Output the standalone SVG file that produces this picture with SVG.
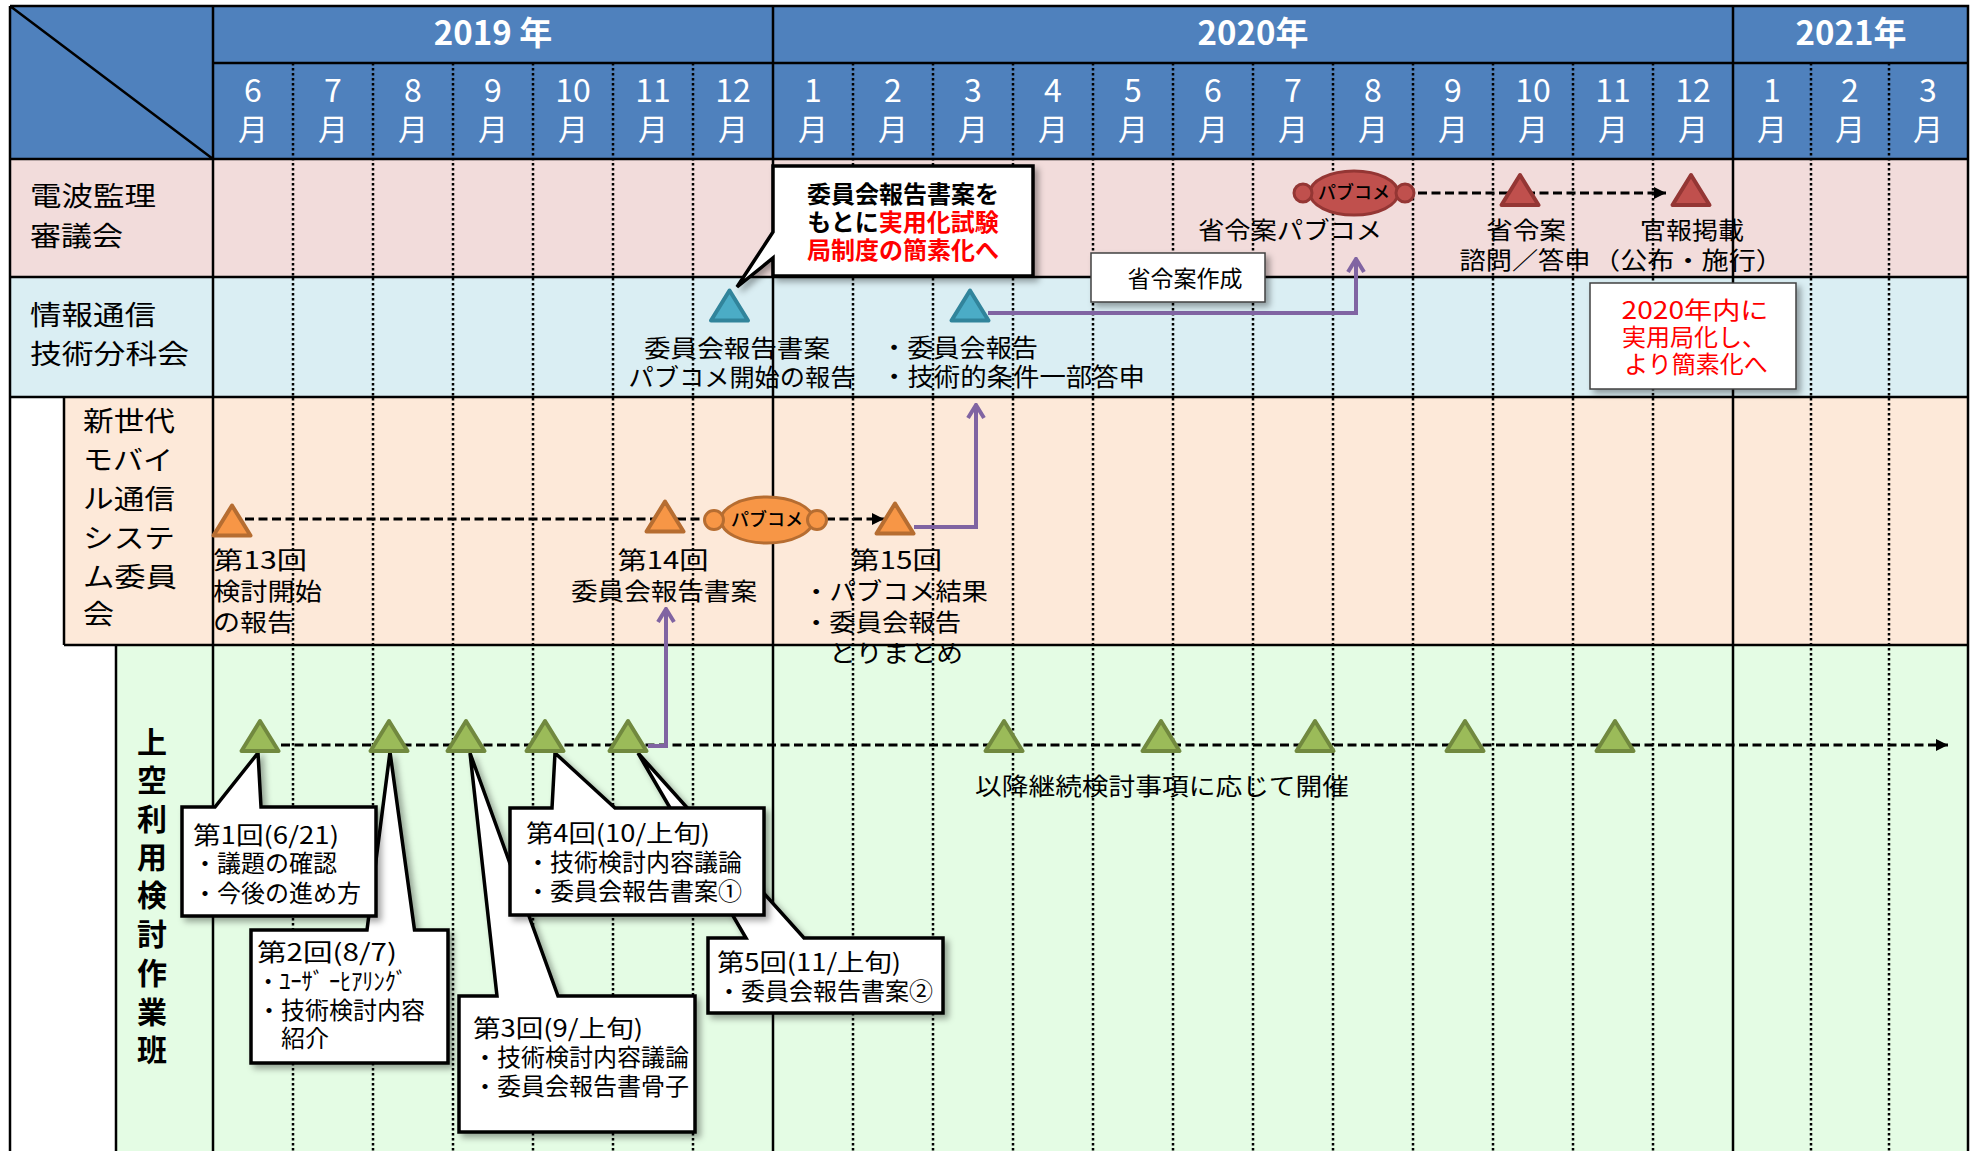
<svg xmlns="http://www.w3.org/2000/svg" width="1974" height="1151" viewBox="0 0 1974 1151">
<defs>
<style>
text{font-family:"Noto Sans CJK JP","Noto Sans",sans-serif;fill:#000;}
.hy{fill:#fff;font-size:33px;font-weight:bold;text-anchor:middle;}
.hn{fill:#fff;font-size:32px;text-anchor:middle;}
.hm{fill:#fff;font-size:30px;text-anchor:middle;}
.lbl{font-size:27px;}
.t24{font-size:24px;}
.t25{font-size:25px;}
.t23{font-size:23px;}
.mid{text-anchor:middle;}
.vb{font-size:30px;font-weight:bold;text-anchor:middle;}
.cb{font-size:24px;font-weight:bold;text-anchor:middle;}
.red{fill:#ff0000;}
.pb{font-size:18px;text-anchor:middle;font-weight:500;}
.sol{stroke:#000;stroke-width:2.5;fill:none;}
.dot{stroke:#000;stroke-width:2.5;stroke-dasharray:2.5 2.5;fill:none;}
.dash{stroke:#000;stroke-width:3;stroke-dasharray:9 4.5;fill:none;}
.pur{stroke:#8064A2;stroke-width:4;fill:none;}
.tg{fill:#9BBB59;stroke:#71893F;stroke-width:4;stroke-linejoin:round;}
.to{fill:#F79646;stroke:#B66D31;stroke-width:4;stroke-linejoin:round;}
.tc{fill:#4BACC6;stroke:#31849B;stroke-width:4;stroke-linejoin:round;}
.tr{fill:#C0504D;stroke:#943634;stroke-width:4;stroke-linejoin:round;}
.bo{fill:#F79646;stroke:#B66D31;stroke-width:3;}
.br{fill:#C0504D;stroke:#943634;stroke-width:3;}
.co{fill:#fff;stroke:#000;stroke-width:3.5;stroke-linejoin:miter;filter:url(#sh);}
.bx{fill:#fff;stroke:#404040;stroke-width:1.5;filter:url(#sh);}
</style>
<filter id="sh" x="-10%" y="-10%" width="130%" height="130%">
<feDropShadow dx="4" dy="4" stdDeviation="3" flood-color="#000" flood-opacity="0.35"/>
</filter>
<path id="tri" d="M0,-15L18.5,15L-18.5,15Z"/>
<marker id="ab" viewBox="0 0 12 12" refX="12" refY="6" markerWidth="12" markerHeight="12" markerUnits="userSpaceOnUse" orient="auto">
<path d="M0,0L12,6L0,12Z" fill="#000"/>
</marker>
<marker id="ap" viewBox="-16 -11 18 22" refX="0" refY="0" markerWidth="18" markerHeight="22" markerUnits="userSpaceOnUse" orient="auto">
<path d="M-13,-8L0,0L-13,8" fill="none" stroke="#8064A2" stroke-width="4"/>
</marker>
</defs>

<g id="background">
<rect x="0" y="0" width="1974" height="1151" fill="#fff"/>
<rect x="10" y="6" width="1958" height="153" fill="#4F81BD"/>
<rect x="10" y="159" width="1958" height="118" fill="#F2DCDB"/>
<rect x="10" y="277" width="1958" height="120" fill="#DAEEF3"/>
<rect x="64" y="397" width="1904" height="248" fill="#FDE9D9"/>
<rect x="116" y="645" width="1852" height="506" fill="#E4FCE4"/>
</g>

<g id="grid">
<path class="dot" d="M293,63V1151M373,63V1151M453,63V1151M533,63V1151M613,63V1151M693,63V1151M853,63V1151M933,63V1151M1013,63V1151M1093,63V1151M1173,63V1151M1253,63V1151M1333,63V1151M1413,63V1151M1493,63V1151M1573,63V1151M1653,63V1151M1811,63V1151M1889,63V1151"/>
<path class="sol" d="M10,6H1968V1151M10,6V1151M213,63H1968M10,159H1968M10,277H1968M10,397H1968M64,645H1968M64,397V645M116,645V1151M213,6V1151M773,6V1151M1733,6V1151M10,6L213,159" stroke-width="3"/>
</g>

<g id="header">
<text class="hy" x="493" y="45">2019 年</text>
<text class="hy" x="1253" y="45">2020年</text>
<text class="hy" x="1851" y="45">2021年</text>
<g class="months">
<text class="hn" x="253" y="102">6</text><text class="hm" x="253" y="140">月</text>
<text class="hn" x="333" y="102">7</text><text class="hm" x="333" y="140">月</text>
<text class="hn" x="413" y="102">8</text><text class="hm" x="413" y="140">月</text>
<text class="hn" x="493" y="102">9</text><text class="hm" x="493" y="140">月</text>
<text class="hn" x="573" y="102">10</text><text class="hm" x="573" y="140">月</text>
<text class="hn" x="653" y="102">11</text><text class="hm" x="653" y="140">月</text>
<text class="hn" x="733" y="102">12</text><text class="hm" x="733" y="140">月</text>
<text class="hn" x="813" y="102">1</text><text class="hm" x="813" y="140">月</text>
<text class="hn" x="893" y="102">2</text><text class="hm" x="893" y="140">月</text>
<text class="hn" x="973" y="102">3</text><text class="hm" x="973" y="140">月</text>
<text class="hn" x="1053" y="102">4</text><text class="hm" x="1053" y="140">月</text>
<text class="hn" x="1133" y="102">5</text><text class="hm" x="1133" y="140">月</text>
<text class="hn" x="1213" y="102">6</text><text class="hm" x="1213" y="140">月</text>
<text class="hn" x="1293" y="102">7</text><text class="hm" x="1293" y="140">月</text>
<text class="hn" x="1373" y="102">8</text><text class="hm" x="1373" y="140">月</text>
<text class="hn" x="1453" y="102">9</text><text class="hm" x="1453" y="140">月</text>
<text class="hn" x="1533" y="102">10</text><text class="hm" x="1533" y="140">月</text>
<text class="hn" x="1613" y="102">11</text><text class="hm" x="1613" y="140">月</text>
<text class="hn" x="1693" y="102">12</text><text class="hm" x="1693" y="140">月</text>
<text class="hn" x="1772" y="102">1</text><text class="hm" x="1772" y="140">月</text>
<text class="hn" x="1850" y="102">2</text><text class="hm" x="1850" y="140">月</text>
<text class="hn" x="1928" y="102">3</text><text class="hm" x="1928" y="140">月</text>
</g>
</g>

<g id="row-labels">
<text class="lbl" x="30" y="206" textLength="126" lengthAdjust="spacingAndGlyphs">電波監理</text>
<text class="lbl" x="30" y="246" textLength="93" lengthAdjust="spacingAndGlyphs">審議会</text>
<text class="lbl" x="30" y="325" textLength="126" lengthAdjust="spacingAndGlyphs">情報通信</text>
<text class="lbl" x="30" y="364" textLength="159" lengthAdjust="spacingAndGlyphs">技術分科会</text>
<text class="lbl" x="83" y="431" textLength="92" lengthAdjust="spacingAndGlyphs">新世代</text>
<text class="lbl" x="83" y="470" textLength="90" lengthAdjust="spacingAndGlyphs">モバイ</text>
<text class="lbl" x="83" y="509" textLength="92" lengthAdjust="spacingAndGlyphs">ル通信</text>
<text class="lbl" x="83" y="548" textLength="92" lengthAdjust="spacingAndGlyphs">システ</text>
<text class="lbl" x="83" y="587" textLength="94" lengthAdjust="spacingAndGlyphs">ム委員</text>
<text class="lbl" x="83" y="624" textLength="31" lengthAdjust="spacingAndGlyphs">会</text>
<text class="vb"><tspan x="152" y="753">上</tspan><tspan x="152" y="791">空</tspan><tspan x="152" y="830">利</tspan><tspan x="152" y="868">用</tspan><tspan x="152" y="906">検</tspan><tspan x="152" y="945">討</tspan><tspan x="152" y="984">作</tspan><tspan x="152" y="1023">業</tspan><tspan x="152" y="1061">班</tspan></text>
</g>

<g id="connectors">
<path class="dash" d="M1418,193H1666" marker-end="url(#ab)"/>
<path class="dash" d="M245,519H706"/>
<path class="dash" d="M826,519H884" marker-end="url(#ab)"/>
<path class="dash" d="M281,745H1948" marker-end="url(#ab)"/>
<path class="pur" d="M988,313H1356V259" marker-end="url(#ap)"/>
<path class="pur" d="M914,527H976V405" marker-end="url(#ap)"/>
<path class="pur" d="M648,746H666V609" marker-end="url(#ap)"/>
</g>

<g id="denpa-events">
<g id="pubcom-red">
<ellipse class="br" cx="1354" cy="193" rx="44" ry="22"/>
<circle class="br" cx="1303" cy="193" r="9"/>
<circle class="br" cx="1405" cy="193" r="9"/>
<text class="pb" x="1354" y="199">パブコメ</text>
</g>
<use href="#tri" class="tr" x="1520" y="190"/>
<use href="#tri" class="tr" x="1691" y="190"/>
<text class="t24 mid" x="1290" y="239" textLength="184" lengthAdjust="spacingAndGlyphs">省令案パブコメ</text>
<text class="t24 mid" x="1526" y="239" textLength="80" lengthAdjust="spacingAndGlyphs">省令案</text>
<text class="t24 mid" x="1525" y="269" textLength="131" lengthAdjust="spacingAndGlyphs">諮問／答申</text>
<text class="t24 mid" x="1692" y="239" textLength="104" lengthAdjust="spacingAndGlyphs">官報掲載</text>
<text class="t24 mid" x="1688" y="269" textLength="190" lengthAdjust="spacingAndGlyphs">（公布・施行）</text>
<g id="box-shoreian">
<rect class="bx" x="1091" y="253" width="174" height="49"/>
<text class="t23 mid" x="1185" y="287">省令案作成</text>
</g>
</g>

<g id="joho-events">
<use href="#tri" class="tc" x="729.5" y="305.5"/>
<use href="#tri" class="tc" x="970" y="305.5"/>
<text class="t24 mid" x="737" y="357" textLength="186" lengthAdjust="spacingAndGlyphs">委員会報告書案</text>
<text class="t24 mid" x="742" y="386" textLength="227" lengthAdjust="spacingAndGlyphs">パブコメ開始の報告</text>
<text class="t25" x="881" y="357" textLength="157" lengthAdjust="spacingAndGlyphs">・委員会報告</text>
<text class="t25" x="881" y="386" textLength="264" lengthAdjust="spacingAndGlyphs">・技術的条件一部答申</text>
<g id="box-2020">
<rect class="bx" x="1590" y="283" width="206" height="106"/>
<text class="t24 mid red" x="1695" y="319" textLength="147" lengthAdjust="spacingAndGlyphs">2020年内に</text>
<text class="t24 mid red" x="1694" y="346">実用局化し、</text>
<text class="t24 mid red" x="1696" y="373">より簡素化へ</text>
</g>
</g>

<g id="shinsedai-events">
<use href="#tri" class="to" x="232" y="520.5"/>
<use href="#tri" class="to" x="665" y="516.5"/>
<use href="#tri" class="to" x="895" y="518.5"/>
<g id="pubcom-orange">
<ellipse class="bo" cx="767" cy="520" rx="46" ry="23"/>
<circle class="bo" cx="714" cy="520" r="9.5"/>
<circle class="bo" cx="817" cy="520" r="9.5"/>
<text class="pb" x="767" y="526">パブコメ</text>
</g>
<text class="t24" x="213" y="569" textLength="94" lengthAdjust="spacingAndGlyphs">第13回</text>
<text class="t24" x="213" y="600" textLength="109" lengthAdjust="spacingAndGlyphs">検討開始</text>
<text class="t24" x="213" y="631" textLength="81" lengthAdjust="spacingAndGlyphs">の報告</text>
<text class="t24 mid" x="663" y="569" textLength="91" lengthAdjust="spacingAndGlyphs">第14回</text>
<text class="t24 mid" x="664" y="600" textLength="186" lengthAdjust="spacingAndGlyphs">委員会報告書案</text>
<text class="t24 mid" x="896" y="569" textLength="92" lengthAdjust="spacingAndGlyphs">第15回</text>
<text class="t24" x="803" y="600" textLength="185" lengthAdjust="spacingAndGlyphs">・パブコメ結果</text>
<text class="t24" x="803" y="631" textLength="158" lengthAdjust="spacingAndGlyphs">・委員会報告</text>
<text class="t24" x="829" y="662" textLength="134" lengthAdjust="spacingAndGlyphs">とりまとめ</text>
</g>

<g id="callout-top">
<path class="co" d="M773,166H1033V276H773V258L737,287L773,232Z"/>
<text class="cb" x="903" y="203">委員会報告書案を</text>
<text class="cb" x="903" y="231">もとに<tspan class="red">実用化試験</tspan></text>
<text class="cb red" x="903" y="259">局制度の簡素化へ</text>
</g>

<g id="wg-events">
<g id="callout-2">
<path class="co" d="M251,930H367L390,752L414.5,930H448V1063H251Z"/>
<text class="t24" x="257" y="961" textLength="140" lengthAdjust="spacingAndGlyphs">第2回(8/7)</text>
<text class="t24" x="257" y="990" textLength="150" lengthAdjust="spacingAndGlyphs">・ﾕｰｻﾞ ｰﾋｱﾘﾝｸﾞ</text>
<text class="t24" x="257" y="1019">・技術検討内容</text>
<text class="t24" x="281" y="1047">紹介</text>
</g>
<g id="callout-1">
<path class="co" d="M182,807H215L258,753L261,807H376V916H182Z"/>
<text class="t24" x="193" y="844" textLength="146" lengthAdjust="spacingAndGlyphs">第1回(6/21)</text>
<text class="t24" x="193" y="872">・議題の確認</text>
<text class="t24" x="193" y="902">・今後の進め方</text>
</g>
<g id="callout-3">
<path class="co" d="M459,996H497L470,753L558,996H695V1132H459Z"/>
<text class="t24" x="473" y="1037" textLength="170" lengthAdjust="spacingAndGlyphs">第3回(9/上旬)</text>
<text class="t24" x="473" y="1066">・技術検討内容議論</text>
<text class="t24" x="473" y="1095">・委員会報告書骨子</text>
</g>
<g id="callout-5">
<path class="co" d="M708,938H746L638,753L804,938H943V1013H708Z"/>
<text class="t24" x="717" y="971" textLength="184" lengthAdjust="spacingAndGlyphs">第5回(11/上旬)</text>
<text class="t24" x="717" y="1000">・委員会報告書案②</text>
</g>
<g id="callout-4">
<path class="co" d="M510,808H552L555,753L615,808H764V915H510Z"/>
<text class="t24" x="526" y="842" textLength="184" lengthAdjust="spacingAndGlyphs">第4回(10/上旬)</text>
<text class="t24" x="526" y="871">・技術検討内容議論</text>
<text class="t24" x="526" y="900">・委員会報告書案①</text>
</g>
<g id="wg-triangles">
<use href="#tri" class="tg" x="260" y="736"/>
<use href="#tri" class="tg" x="389" y="736"/>
<use href="#tri" class="tg" x="466" y="736"/>
<use href="#tri" class="tg" x="545" y="736"/>
<use href="#tri" class="tg" x="628" y="736"/>
<use href="#tri" class="tg" x="1004" y="736"/>
<use href="#tri" class="tg" x="1161" y="736"/>
<use href="#tri" class="tg" x="1315" y="736"/>
<use href="#tri" class="tg" x="1465" y="736"/>
<use href="#tri" class="tg" x="1615" y="736"/>
</g>
<text class="t24 mid" x="1162" y="795" textLength="374" lengthAdjust="spacingAndGlyphs">以降継続検討事項に応じて開催</text>
</g>
</svg>
